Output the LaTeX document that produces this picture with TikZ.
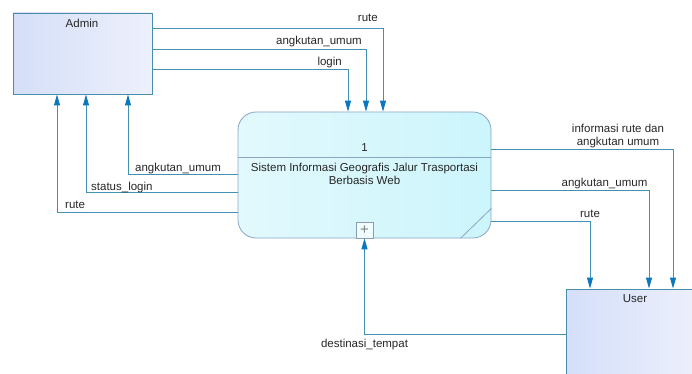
\documentclass[tikz,border=0pt]{standalone}
\usepackage{fontspec}
\setmainfont{Liberation Sans}
\usetikzlibrary{arrows.meta,calc}

\definecolor{flowline}{RGB}{65,145,178}
\definecolor{flowtip}{RGB}{10,120,190}
\definecolor{entedge}{RGB}{75,140,170}
\definecolor{entA}{RGB}{212,223,249}
\definecolor{entB}{RGB}{238,240,252}
\definecolor{procedge}{RGB}{140,165,195}
\definecolor{procA}{RGB}{226,249,253}
\definecolor{procB}{RGB}{204,245,252}

\tikzset{
  every node/.style={font=\fontsize{11.5}{13}\selectfont},
  entity/.style={draw=entedge, line width=0.9pt, rectangle, inner sep=0pt,
    left color=entA, right color=entB},
  process/.style={draw=procedge, line width=0.8pt, rectangle, rounded corners=18pt,
    inner sep=0pt, left color=procA, right color=procB},
  flow/.style={draw=flowline, line width=0.9pt,
    -{Triangle[length=11pt,width=6pt,fill=flowtip,color=flowtip]}},
  flowtext/.style={inner sep=0pt, text=black!85},
}

\begin{document}
\begin{tikzpicture}[x=1pt,y=-1pt]
  \useasboundingbox (0,0) rectangle (692,374);

  % external entities
  \node[entity, minimum width=139pt, minimum height=81pt] (admin) at (82.5,53.5) {};
  \node[flowtext] (adminname) at (82,23) {Admin};
  \node[entity, minimum width=138pt, minimum height=91pt] (user) at (635,334.5) {};
  \node[flowtext] (username) at (635,299) {User};

  % process 1
  \node[process, minimum width=253pt, minimum height=126pt] (proc) at (364.5,175) {};
  \draw[procedge, line width=0.8pt] (proc.west |- 0,157) -- (proc.east |- 0,157);
  \draw[procedge, line width=0.8pt] (proc.south east) ++(-31,0) -- ++(31,-30);
  \node[flowtext] (procid) at (364.5,148) {1};
  \node[flowtext, align=center, anchor=north] (procname) at (364.5,163)
    {Sistem Informasi Geografis Jalur Trasportasi\\Berbasis Web};
  \node[draw=procedge!80!gray, fill=white!50!procA, line width=0.7pt,
        minimum width=17pt, minimum height=16pt, inner sep=0pt, anchor=south,
        text=gray, font=\fontsize{15}{15}\selectfont] (plus) at (proc.south) {+};

  % Admin -> process
  \draw[flow] (admin.east |- 0,28) -| ([xshift=18.5pt]proc.north);
  \draw[flow] (admin.east |- 0,49) -| ([xshift=1.5pt]proc.north);
  \draw[flow] (admin.east |- 0,69) -| ([xshift=-16.5pt]proc.north);
  \node[flowtext, anchor=base east] (t1) at (378,22) {rute};
  \node[flowtext, anchor=base east] (t2) at (362,45) {angkutan\_umum};
  \node[flowtext, anchor=base east] (t3) at (342,66) {login};

  % process -> Admin
  \draw[flow] (proc.west |- 0,174) -| (admin.south -| 128,0);
  \draw[flow] (proc.west |- 0,192) -| (admin.south -| 86,0);
  \draw[flow] (proc.west |- 0,212) -| (admin.south -| 57,0);
  \node[flowtext, anchor=base west] (t4) at (135,171) {angkutan\_umum};
  \node[flowtext, anchor=base west] (t5) at (91,190) {status\_login};
  \node[flowtext, anchor=base west] (t6) at (65,208) {rute};

  % process -> User
  \draw[flow] (proc.east |- 0,149) -| (user.north -| 673,0);
  \draw[flow] (proc.east |- 0,190) -| (user.north -| 649,0);
  \draw[flow] (proc.east |- 0,221) -| (user.north -| 590,0);
  \node[flowtext, align=center, anchor=base] (t7) at (618,146)
    {informasi rute dan\\angkutan umum};
  \node[flowtext, anchor=base] (t8) at (604.5,186) {angkutan\_umum};
  \node[flowtext, anchor=base] (t9) at (590,217) {rute};

  % User -> process
  \draw[flow] (user.west |- 0,334) -| (plus.south);
  \node[flowtext, anchor=base] (t10) at (364.5,347) {destinasi\_tempat};
\end{tikzpicture}
\end{document}
